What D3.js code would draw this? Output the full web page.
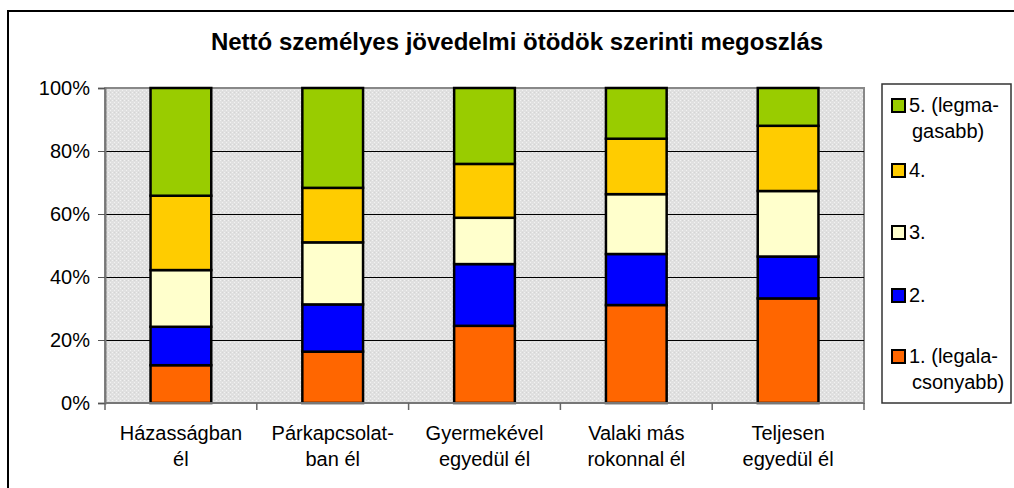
<!DOCTYPE html>
<html>
<head>
<meta charset="utf-8">
<script src="https://cdn.jsdelivr.net/npm/d3@7"></script>
<style>
  body { margin: 0; background: #fff; }
  svg { display: block; font-family: "Liberation Sans", Arial, sans-serif; }
</style>
</head>
<body>
<div id="chart"></div>
<script>
// categories (two label lines each)
const categories = ["Házasságban él", "Párkapcsolatban él", "Gyermekével egyedül él", "Valaki más rokonnal él", "Teljesen egyedül él"];
const categoryLines = [["Házasságban", "él"], ["Párkapcsolat-", "ban él"], ["Gyermekével", "egyedül él"], ["Valaki más", "rokonnal él"], ["Teljesen", "egyedül él"]];

// series shares (%), bottom to top
const q1 = [12.0, 16.3, 24.5, 31.1, 33.2];
const q2 = [12.2, 15.0, 19.6, 16.2, 13.3];
const q3 = [18.0, 19.7, 14.7, 19.0, 20.8];
const q4 = [23.6, 17.3, 17.1, 17.6, 20.7];
const q5 = [34.2, 31.7, 24.1, 16.1, 12.0];

const seriesNames = ["1. (legalacsonyabb)", "2.", "3.", "4.", "5. (legmagasabb)"];
const seriesColors = ["#ff6600", "#0000ff", "#ffffcc", "#ffcc00", "#99cc00"];
const legendLines = [["1. (legala-", "csonyabb)"], ["2."], ["3."], ["4."], ["5. (legma-", "gasabb)"]];

const yTicks = [0, 20, 40, 60, 80, 100];
const title = "Nettó személyes jövedelmi ötödök szerinti megoszlás";

const width = 1014, height = 488;
const plot = { left: 105, right: 864, top: 88, bottom: 403 };

const rows = categories.map((c, i) => ({ cat: c, s0: q1[i], s1: q2[i], s2: q3[i], s3: q4[i], s4: q5[i] }));
const keys = ["s0", "s1", "s2", "s3", "s4"];
const stacked = d3.stack().keys(keys)(rows);

const svg = d3.select('#chart').append('svg')
  .attr('width', width)
  .attr('height', height);

// grey dotted background pattern
const defs = svg.append('defs');
const pat = defs.append('pattern')
  .attr('id', 'dots')
  .attr('width', 4).attr('height', 4)
  .attr('patternUnits', 'userSpaceOnUse');
pat.append('rect').attr('width', 4).attr('height', 4).attr('fill', '#e0e0e0');
pat.append('rect').attr('x', 0).attr('y', 0).attr('width', 1).attr('height', 1).attr('fill', '#f2f2f2');
pat.append('rect').attr('x', 2).attr('y', 2).attr('width', 1).attr('height', 1).attr('fill', '#f2f2f2');
pat.append('rect').attr('x', 2).attr('y', 0).attr('width', 1).attr('height', 1).attr('fill', '#d4d4d4');

// outer chart frame
svg.append('rect')
  .attr('x', 8).attr('y', 11)
  .attr('width', width + 20).attr('height', height + 20)
  .attr('fill', 'none')
  .attr('stroke', '#000')
  .attr('stroke-width', 2);

// title
svg.append('text')
  .attr('x', 517).attr('y', 50)
  .attr('text-anchor', 'middle')
  .attr('font-size', 24)
  .attr('font-weight', 'bold')
  .text(title);

// scales
const x = d3.scaleBand()
  .domain(categories)
  .range([plot.left, plot.right])
  .paddingInner(0.6)
  .paddingOuter(0.3);

const slot = d3.scaleBand()
  .domain(categories)
  .range([plot.left, plot.right]);

const y = d3.scaleLinear()
  .domain([0, 100])
  .range([plot.bottom, plot.top]);

// plot background
svg.append('rect')
  .attr('x', plot.left).attr('y', plot.top)
  .attr('width', plot.right - plot.left).attr('height', plot.bottom - plot.top)
  .attr('fill', 'url(#dots)')
  .attr('stroke', '#888')
  .attr('stroke-width', 2);

// gridlines
svg.append('g')
  .selectAll('line')
  .data(yTicks.filter(d => d > 0 && d < 100))
  .join('line')
  .attr('x1', plot.left).attr('x2', plot.right)
  .attr('y1', d => y(d) + 0.5).attr('y2', d => y(d) + 0.5)
  .attr('stroke', '#000')
  .attr('stroke-width', 1);

// bars
svg.append('g')
  .selectAll('g')
  .data(stacked)
  .join('g')
  .attr('fill', (d, i) => seriesColors[i])
  .selectAll('rect')
  .data(d => d)
  .join('rect')
  .attr('x', d => x(d.data.cat))
  .attr('width', x.bandwidth())
  .attr('y', d => y(d[1]))
  .attr('height', d => y(d[0]) - y(d[1]))
  .attr('stroke', '#000')
  .attr('stroke-width', 2.5);

// y axis
const yAxis = d3.axisLeft(y)
  .tickValues(yTicks)
  .tickSize(7)
  .tickPadding(8)
  .tickFormat(d => d + '%');

const yg = svg.append('g')
  .attr('transform', `translate(${plot.left}, 0)`)
  .call(yAxis);
yg.select('.domain').attr('stroke', '#777').attr('stroke-width', 2);
yg.selectAll('.tick line').attr('stroke', '#555');
yg.selectAll('.tick text')
  .attr('font-size', 20)
  .attr('font-family', '"Liberation Sans", Arial, sans-serif')
  .attr('fill', '#000');

// x axis (ticks between categories)
const xg = svg.append('g')
  .attr('transform', `translate(0, ${plot.bottom})`);
xg.append('line')
  .attr('x1', plot.left).attr('x2', plot.right)
  .attr('stroke', '#777').attr('stroke-width', 2);
xg.selectAll('line.tk')
  .data(categories.map(c => slot(c)).concat([plot.right]))
  .join('line')
  .attr('class', 'tk')
  .attr('x1', d => d).attr('x2', d => d)
  .attr('y1', 0).attr('y2', 7)
  .attr('stroke', '#666').attr('stroke-width', 1.5);

const labels = svg.append('g')
  .selectAll('text')
  .data(categories)
  .join('text')
  .attr('text-anchor', 'middle')
  .attr('font-size', 20)
  .attr('transform', d => `translate(${slot(d) + slot.bandwidth() / 2}, 440)`);
labels.selectAll('tspan')
  .data((d, i) => categoryLines[i])
  .join('tspan')
  .attr('x', 0)
  .attr('dy', (d, i) => i === 0 ? 0 : 26)
  .text(d => d);

// legend
const legend = svg.append('g');
legend.append('rect')
  .attr('x', 882).attr('y', 84)
  .attr('width', 129).attr('height', 319)
  .attr('fill', '#fff')
  .attr('stroke', '#333')
  .attr('stroke-width', 1.5);

const legendY = [356, 295, 232, 170, 105];
const items = legend.selectAll('g.item')
  .data(seriesNames)
  .join('g')
  .attr('class', 'item')
  .attr('transform', (d, i) => `translate(892, ${legendY[i]})`);
items.append('rect')
  .attr('x', 0).attr('y', -6)
  .attr('width', 13).attr('height', 13)
  .attr('fill', (d, i) => seriesColors[i])
  .attr('stroke', '#000')
  .attr('stroke-width', 2);
items.append('text')
  .attr('font-size', 20)
  .attr('y', 7)
  .selectAll('tspan')
  .data((d, i) => legendLines[i])
  .join('tspan')
  .attr('x', (d, i) => i === 0 ? 17 : 20)
  .attr('dy', (d, i) => i === 0 ? 0 : 26)
  .text(d => d);
</script>
</body>
</html>
